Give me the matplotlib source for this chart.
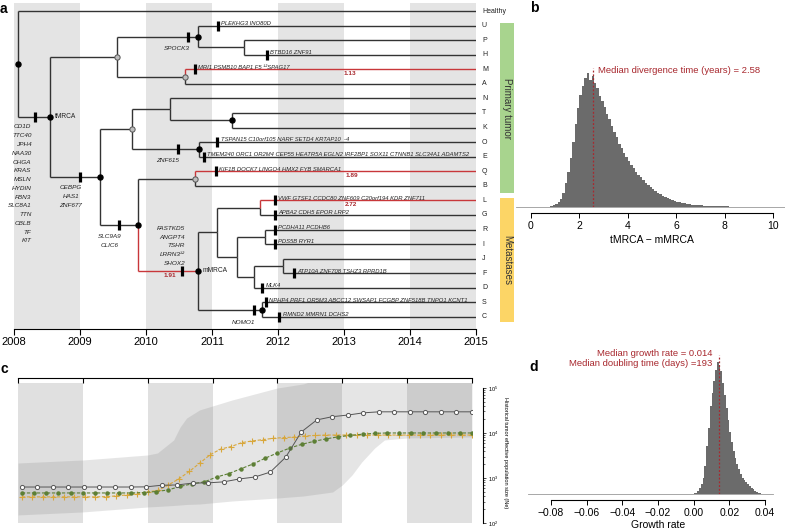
import numpy as np
import matplotlib.pyplot as plt
from matplotlib.patches import Rectangle
from matplotlib.ticker import LogLocator, LogFormatterMathtext, NullFormatter

plt.rcParams['font.family'] = ['Liberation Sans', 'DejaVu Sans']

# ---------------- data: panel a (tree) ----------------
leaves = ["Healthy", "U", "P", "H", "M", "A", "N", "T", "K", "O", "E",
          "Q", "B", "L", "G", "R", "I", "J", "F", "D", "S", "C"]
leaf_time = 2015.0

# node: (time, children, marker)
nodes = {
    "root": (2008.06, ["Healthy", "tMRCA"], "black"),
    "tMRCA": (2008.55, ["n1", "n2"], "black"),
    "n1": (2009.56, ["n3", "n4"], "grey"),
    "n3": (2010.79, ["U", "n5"], "black"),
    "n5": (2011.48, ["P", "H"], None),
    "n4": (2010.59, ["M", "A"], "grey"),
    "n2": (2009.30, ["n6", "n7"], "black"),
    "n6": (2009.79, ["n8", "n9"], "grey"),
    "n8": (2010.36, ["N", "n10"], None),
    "n10": (2011.30, ["T", "K"], "black"),
    "n9": (2010.80, ["O", "E"], "black"),
    "n7": (2009.88, ["n11", "mMRCA"], "black"),
    "n11": (2010.74, ["Q", "B"], "grey"),
    "mMRCA": (2010.79, ["n12", "n13"], "black"),
    "n12": (2011.08, ["n14", "n15"], None),
    "n14": (2011.73, ["L", "G"], None),
    "n15": (2011.38, ["n16", "n17"], None),
    "n16": (2011.80, ["R", "I"], None),
    "n17": (2011.64, ["n18", "D"], None),
    "n18": (2012.08, ["J", "F"], None),
    "n13": (2011.76, ["S", "C"], "black"),
}

# mutations on leaf edges: child -> (time of bar, genes)
leaf_muts = {
    "U": (2011.09, "PLEKHG3 INO80D"),
    "H": (2011.83, "BTBD16 ZNF91"),
    "M": (2010.74, "MRI1 PSMB10 BAP1 F5 \u00b9\u00b2SPAG17"),
    "O": (2011.08, "TSPAN15 C10orf105 NARF SETD4 KRTAP10  -4"),
    "E": (2010.88, "TMEM240 ORC1 OR2M4 CEP55 HEATR5A EGLN2 IRF2BP1 SOX11 CTNNB1 SLC34A1 ADAMTS2"),
    "Q": (2011.06, "KIF1B DOCK7 LINGO4 HMX2 FYB SMARCA1"),
    "L": (2011.95, "VWF GTSF1 CCDC80 ZNF609 C20orf194 KDR ZNF711"),
    "G": (2011.95, "APBA2 CDH5 EPOR LRP2"),
    "R": (2011.95, "PCDHA11 PCDHB6"),
    "I": (2011.95, "PDS5B RYR1"),
    "F": (2012.24, "ATP10A ZNF708 TSHZ3 RPRD1B"),
    "D": (2011.76, "MLK4"),
    "S": (2011.82, "NPHP4 PRF1 OR5M3 ABCC12 SWSAP1 FCGBP ZNF518B TNPO1 KCNT1"),
    "C": (2012.02, "RMND2 MMRN1 DCHS2"),
}

# mutations on internal edges: child -> (time of bar, genes)
trunk_genes = ["CD1D", "TTC40", "JPH4", "NAA30", "CHGA", "KRAS", "MSLN",
               "HYDIN", "FBN3", "SLC8A1", "TTN", "CBLB", "TF", "KIT"]
inner_muts = {
    "tMRCA": (2008.32, trunk_genes),
    "n2": (2009.00, ["CEBPG", "HAS1", "ZNF677"]),
    "n3": (2010.64, ["SPOCK3"]),
    "n9": (2010.48, ["ZNF615"]),
    "n7": (2009.59, ["SLC9A9", "CLIC6"]),
    "mMRCA": (2010.55, ["FASTKD5", "ANGPT4", "TSHR", "LRRN3\u00b9\u00b2", "SHOX2"]),
    "n13": (2011.64, ["NOMO1"]),
}

red_edges = ["M", "Q", "L", "mMRCA"]
branch_lengths = {"M": "1.13", "Q": "1.89", "L": "2.72", "mMRCA": "1.91"}

# ---------------- data: panel b ----------------
div_bin = 0.1
div_counts = [0, 0, 0, 0, 0, 0, 0, 0.5, 1, 2,
              3, 5, 8, 14, 24, 35, 49, 65, 83, 99,
              112, 121, 129, 134, 127, 131, 124, 119, 111, 106,
              100, 93, 88, 81, 75, 70, 63, 59, 54, 50,
              46, 42, 39, 35, 32, 30, 27, 24, 22, 20,
              18, 16, 14, 13, 11, 10, 9, 8, 7, 6,
              5, 5, 4, 4, 3, 3, 2.5, 2.2, 2, 1.8,
              1.6, 1.4, 1.3, 1.2, 1, 1, 0.9, 0.8, 0.8, 0.7,
              0.6, 0.6, 0.5, 0.5, 0.4, 0.4, 0.4, 0.3, 0.3, 0.3,
              0.3, 0.2, 0.2, 0.2, 0.2, 0.2, 0.2, 0.2, 0.2, 0.2,
              0.2, 0.2, 0.2, 0.1, 0.1]
div_median = 2.58

# ---------------- data: panel c ----------------
env_t = [2008.0, 2009.0, 2010.0, 2010.15, 2010.4, 2010.5, 2010.6, 2010.8, 2011.3,
         2012.0, 2012.4, 2012.85, 2013.0, 2013.15, 2013.3, 2013.5, 2013.65, 2014.0, 2015.0]
env_low = [151, 176, 227, 233, 245, 251, 258, 264, 308,
           359, 398, 488, 699, 1166, 2266, 4642, 6988, 7743, 8150]
env_high = [2154, 2512, 3247, 3594, 6988, 13600, 21500, 32500, 54000,
            100000, 123000, 200000, 200000, 200000, 200000, 200000, 200000, 200000, 200000]

ne_circle = [630, 630, 630, 630, 630, 630, 630, 630, 635, 690,
             700, 770, 780, 820, 950, 1050, 1350, 2900, 10500, 19500,
             23000, 25000, 28000, 29500, 29500, 29500, 29500, 29500, 29500, 29500]
ne_green = [465, 465, 465, 465, 465, 465, 465, 465, 465, 465,
            475, 500, 540, 650, 740, 820, 1050, 1250, 1600, 2050,
            2750, 3600, 4600, 5600, 6500, 7400, 8200, 8800, 9400, 9800,
            10000, 10000, 10000, 10000, 10000, 10000, 10000, 10000]
ne_yellow = [380, 380, 380, 380, 380, 380, 380, 380, 385, 400,
             420, 450, 490, 530, 700, 960, 1400, 2150, 3300, 4400,
             5000, 6100, 6650, 7100, 7600, 7900, 8100, 8600, 8800, 9000,
             9000, 9000, 9000, 9000, 9000, 9000, 9000, 9000, 9000, 9000,
             9000, 9000, 9000, 9000]

# ---------------- data: panel d ----------------
gr_bin = 0.001
gr_start = -0.001
gr_counts = [0.5, 1, 1.5, 3, 6, 10, 16, 28, 48, 66,
             88, 101, 113, 124, 132, 129, 123, 111, 99, 86,
             74, 62, 52, 43, 36, 30, 25, 20, 16, 14,
             12, 10, 8, 6, 5, 3, 2, 1.5, 1, 0.5]
gr_median = 0.014

years = list(range(2008, 2016))

RED = "#c8373a"
DARKRED = "#a8282e"
TREE = "#333333"
BAND = "#e4e4e4"

W, H = 785, 531


def box(x0, y0, x1, y1):
    return [x0 / W, 1 - y1 / H, (x1 - x0) / W, (y1 - y0) / H]


fig = plt.figure(figsize=(7.85, 5.31), dpi=100)

# ================= panel a =================
ax = fig.add_axes(box(14, 3, 476, 329))
ax.set_xlim(2008, 2015)
ax.set_ylim(21.83, -0.55)
for s in ["top", "right", "left"]:
    ax.spines[s].set_visible(False)
ax.set_yticks([])
ax.set_xticks(years)
ax.tick_params(axis="x", length=4, width=0.8, labelsize=8, pad=2)
for y0 in years[:-1:2]:
    ax.axvspan(y0, y0 + 1, color=BAND, lw=0, zorder=0)

ypos = {n: i for i, n in enumerate(leaves)}


def get_y(n):
    if n not in ypos:
        ch = nodes[n][1]
        ypos[n] = (get_y(ch[0]) + get_y(ch[-1])) / 2
    return ypos[n]


get_y("root")
xpos = {n: leaf_time for n in leaves}
xpos.update({n: v[0] for n, v in nodes.items()})

for n, (t, ch, mk) in nodes.items():
    for c in ch:
        red = c in red_edges
        col = RED if red else TREE
        z = 3 if red else 2
        ax.plot([t, t], [ypos[n], ypos[c]], color=col, lw=1.0, zorder=z, solid_capstyle="butt")
        ax.plot([t, xpos[c]], [ypos[c], ypos[c]], color=col, lw=1.0, zorder=z, solid_capstyle="butt")

for n, (t, ch, mk) in nodes.items():
    if mk == "black":
        ax.plot(t, ypos[n], "o", ms=3.6, color="black", zorder=6)
    elif mk == "grey":
        ax.plot(t, ypos[n], "o", ms=3.8, mfc="#bdbdbd", mec="#555555", mew=0.7, zorder=6)

for c, (t, genes) in leaf_muts.items():
    ax.plot(t, ypos[c], marker="|", ms=6.5, mew=2.3, color="black", zorder=7)
    ax.text(t + 0.05, ypos[c] + 0.02, genes, fontsize=4.2, style="italic",
            va="bottom", ha="left", color="#222222")

for c, (t, genes) in inner_muts.items():
    ax.plot(t, ypos[c], marker="|", ms=6.5, mew=2.3, color="black", zorder=7)

# label placement for internal edges (x, first y, step, alignment)
inner_layout = {
    "tMRCA": (2008.265, 7.96, 0.602, "right"),
    "n2": (2008.86, 12.15, 0.6, "center"),
    "n3": (2010.47, 2.54, 0.6, "center"),
    "n9": (2010.33, 10.23, 0.6, "center"),
    "n7": (2009.45, 15.5, 0.62, "center"),
    "mMRCA": (2010.59, 14.9, 0.615, "right"),
    "n13": (2011.47, 21.4, 0.6, "center"),
}
for c, (t, genes) in inner_muts.items():
    lx, ly, step, ha = inner_layout[c]
    for k, g in enumerate(genes):
        ax.text(lx, ly + k * step, g, fontsize=4.6, style="italic", ha=ha,
                va="center", color="#222222")

ax.text(2008.62, ypos["tMRCA"], "tMRCA", fontsize=4.8, va="center", ha="left", color="#222222")
ax.text(2010.86, ypos["mMRCA"], "mMRCA", fontsize=4.8, va="center", ha="left", color="#222222")

bl_pos = {"M": 2013.09, "Q": 2013.12, "L": 2013.1, "mMRCA": 2010.36}
for c, txt in branch_lengths.items():
    ax.text(bl_pos[c], ypos[c] + 0.12, txt, fontsize=4.6, color=DARKRED,
            ha="center", va="top", fontweight="bold")

for n in leaves:
    ax.text(2015.09, ypos[n], n, fontsize=5, va="center", ha="left", color="#222222")

ax.add_patch(Rectangle((2015.36, 0.82), 0.22, 11.67, facecolor="#a8d48e",
                       edgecolor="none", clip_on=False))
ax.add_patch(Rectangle((2015.36, 12.83), 0.22, 8.52, facecolor="#fcd566",
                       edgecolor="none", clip_on=False))
ax.text(2015.47, 6.7, "Primary tumor", rotation=270, fontsize=7, ha="center",
        va="center", color="#333333")
ax.text(2015.47, 17.1, "Metastases", rotation=270, fontsize=7, ha="center",
        va="center", color="#333333")

# ================= panel b =================
axb = fig.add_axes(box(531, 60, 773, 207))
div_left = [k * div_bin for k in range(len(div_counts))]
axb.bar(div_left, div_counts, width=div_bin, align="edge", color="#6b6b6b", lw=0)
axb.set_xlim(0, 10)
axb.set_ylim(0, 147)
axb.plot([-0.6, 10.5], [0, 0], color="#999999", lw=0.6, clip_on=False)
axb.plot([div_median, div_median], [0, 139], ls=(0, (1.5, 1.5)), color=DARKRED, lw=0.9)
axb.text(div_median + 0.2, 137, "Median divergence time (years) = 2.58", color=DARKRED,
         fontsize=6.8, va="center", ha="left")
for s in ["top", "right", "left"]:
    axb.spines[s].set_visible(False)
axb.spines["bottom"].set_position(("outward", 4.3))
axb.spines["bottom"].set_bounds(0, 10)
axb.set_yticks([])
axb.set_xticks([0, 2, 4, 6, 8, 10])
axb.tick_params(axis="x", length=3.5, width=0.7, labelsize=7.5, pad=2)
axb.set_xlabel("tMRCA \u2212 mMRCA", fontsize=7.5, labelpad=3)

# ================= panel c =================
axc = fig.add_axes(box(18, 383, 472, 523))
axc.set_xlim(2008, 2015)
axc.set_yscale("log")
axc.set_ylim(100, 10 ** 5.11)
for y0 in years[:-1:2]:
    axc.axvspan(y0, y0 + 1, color="0.5", alpha=0.24, lw=0, zorder=0)
axc.fill_between(env_t, env_low, env_high, color="0.5", alpha=0.2, lw=0, zorder=1)

t_circle = np.linspace(2008.06, 2015.0, len(ne_circle))
t_green = np.linspace(2008.06, 2015.0, len(ne_green))
t_yellow = np.linspace(2008.06, 2015.0, len(ne_yellow))
axc.plot(t_yellow, ne_yellow, ls=(0, (3, 1.5)), lw=0.8, color="#d8a73c", marker="+",
         ms=4, mew=0.8, zorder=3)
axc.plot(t_green, ne_green, ls=(0, (3, 1.5)), lw=0.8, color="#5d7f35", marker="o",
         ms=2.2, zorder=4)
axc.plot(t_circle, ne_circle, ls="-", lw=0.7, color="#555555", marker="o", ms=3,
         mfc="white", mec="#555555", mew=0.7, zorder=5)

axc.spines["left"].set_visible(False)
axc.spines["bottom"].set_visible(False)
axc.spines["top"].set_position(("outward", 3.6))
axc.spines["right"].set_position(("outward", 8))
axc.spines["right"].set_bounds(100, 1e5)
axc.xaxis.tick_top()
axc.set_xticks(years)
axc.tick_params(axis="x", direction="in", length=3.6, width=0.8, labeltop=False)
axc.yaxis.tick_right()
axc.yaxis.set_major_locator(LogLocator(base=10, numticks=10))
axc.yaxis.set_major_formatter(LogFormatterMathtext())
axc.yaxis.set_minor_locator(LogLocator(base=10, subs=np.arange(2, 10), numticks=20))
axc.yaxis.set_minor_formatter(NullFormatter())
axc.tick_params(axis="y", which="major", length=2.5, width=0.5, labelsize=4, pad=1)
axc.tick_params(axis="y", which="minor", length=1.5, width=0.4)
axc.yaxis.set_label_position("right")
axc.set_ylabel("Historical tumor effective population size (Ne)", fontsize=4,
               rotation=270, labelpad=7)

# ================= panel d =================
axd = fig.add_axes(box(551, 340, 765, 494))
gr_left = [gr_start + k * gr_bin for k in range(len(gr_counts))]
axd.bar(gr_left, gr_counts, width=gr_bin, align="edge", color="#6b6b6b", lw=0)
axd.set_xlim(-0.08, 0.04)
axd.set_ylim(0, 154)
axd.plot([-0.093, 0.0445], [0, 0], color="#999999", lw=0.6, clip_on=False)
axd.plot([gr_median, gr_median], [0, 139], ls=(0, (1.5, 1.5)), color=DARKRED, lw=0.9)
axd.text(0.0104, 140, "Median growth rate = 0.014", color=DARKRED, fontsize=6.8,
         ha="right", va="center")
axd.text(0.0104, 131, "Median doubling time (days) =193", color=DARKRED, fontsize=6.8,
         ha="right", va="center")
for s in ["top", "right", "left"]:
    axd.spines[s].set_visible(False)
axd.spines["bottom"].set_position(("outward", 4.3))
axd.spines["bottom"].set_bounds(-0.08, 0.04)
axd.set_yticks([])
axd.set_xticks([-0.08, -0.06, -0.04, -0.02, 0.0, 0.02, 0.04])
axd.set_xticklabels(["\u22120.08", "\u22120.06", "\u22120.04", "\u22120.02", "0.00", "0.02", "0.04"])
axd.tick_params(axis="x", length=3.5, width=0.7, labelsize=7.5, pad=2)
axd.set_xlabel("Growth rate", fontsize=7.5, labelpad=2)

# panel letters
for lab, (px, py) in {"a": (3, 9), "b": (534, 8), "c": (4, 369), "d": (534, 367)}.items():
    fig.text(px / W, 1 - py / H, lab, fontsize=10, fontweight="bold", ha="center", va="center")

fig.savefig("out.png", dpi=100)
